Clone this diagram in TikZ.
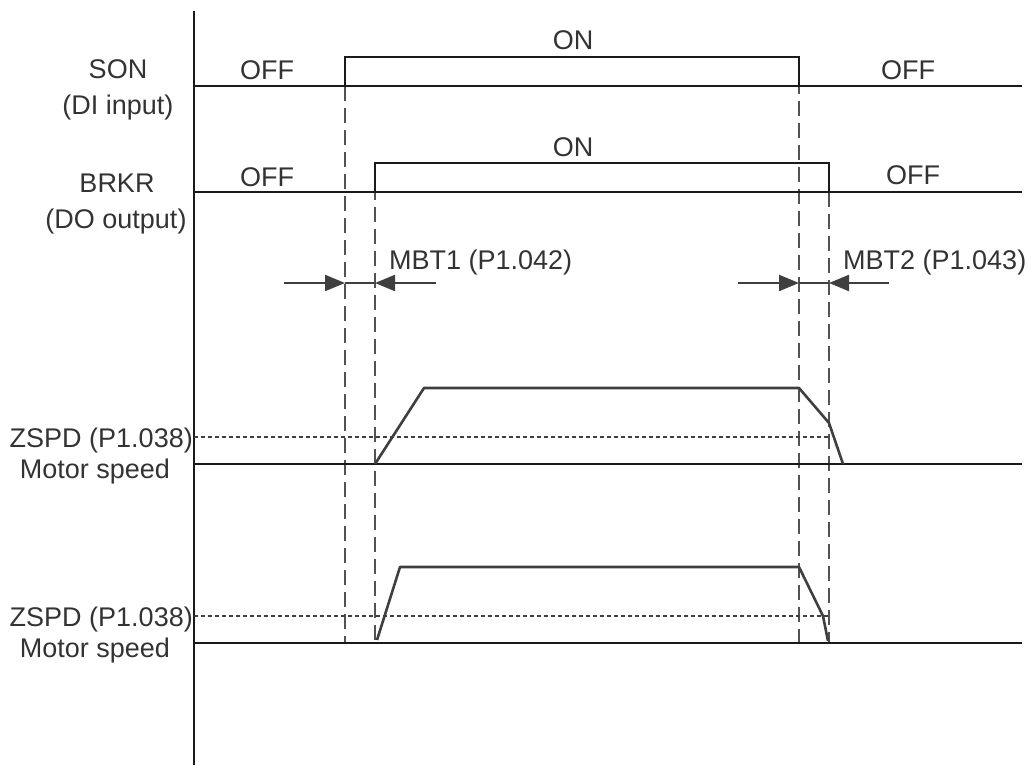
\documentclass[tikz,border=0pt]{standalone}
\usepackage{fontspec}
\setmainfont{Liberation Sans}
\usetikzlibrary{arrows.meta}
\definecolor{ink}{HTML}{1A1A1A}
\definecolor{curve}{HTML}{3F3F3F}
\definecolor{txt}{HTML}{333333}
\tikzset{
  sig/.style={draw=ink, line width=2pt},
  vdash/.style={draw=curve!90, line width=1.8pt, dash pattern=on 15pt off 7pt},
  vdot/.style={draw=curve, line width=1.8pt, dash pattern=on 4pt off 3pt},
  spd/.style={draw=curve, line width=2.6pt, line join=round},
  dimarr/.style={draw=curve, line width=2.2pt, -{Triangle[length=20pt,width=16pt]}},
  lbl/.style={text=txt, font=\fontsize{27}{32}\selectfont, inner sep=0pt, anchor=base},
  lblr/.style={lbl, anchor=base east},
  lbll/.style={lbl, anchor=base west}
}
\begin{document}
\begin{tikzpicture}[x=1pt,y=-1pt]
\useasboundingbox (0,0) rectangle (1027,765);
% axis
\draw[sig] (194,11) -- (194,765);
% dashed guides
\draw[vdash] (345,86) -- (345,643);
\draw[vdash] (375,163) -- (375,643);
\draw[vdash] (799,57) -- (799,643);
\draw[vdash] (829,192) -- (829,643);
% SON
\draw[sig] (194,86) -- (1022,86);
\draw[sig] (345,86) -- (345,57) -- (799,57) -- (799,86);
% BRKR
\draw[sig] (194,192) -- (1022,192);
\draw[sig] (375,192) -- (375,163) -- (829,163) -- (829,192);
% dimension arrows
\coordinate (a1s) at (284,283); \coordinate (a1e) at (345,283);
\coordinate (a2s) at (436,283); \coordinate (a2e) at (375,283);
\coordinate (b1s) at (738,283); \coordinate (b1e) at (799,283);
\coordinate (b2s) at (889,283); \coordinate (b2e) at (829,283);
\draw[dimarr] (a1s) -- (a1e);
\draw[dimarr] (a2s) -- (a2e);
\draw[draw=curve, line width=2.2pt] (a1e) -- (a2e);
\draw[dimarr] (b1s) -- (b1e);
\draw[dimarr] (b2s) -- (b2e);
\draw[draw=curve, line width=2.2pt] (b1e) -- (b2e);
% motor speed 1
\draw[vdot] (194,437) -- (829,437);
\draw[sig] (194,464) -- (1022,464);
\draw[spd] (375,464) -- (424,388) -- (799,388) -- (829,423) -- (843,464);
% motor speed 2
\draw[vdot] (194,616) -- (830,616);
\draw[sig] (194,643) -- (1022,643);
\draw[spd] (377,640) -- (400,567) -- (799,567) -- (823,616) -- (828,641);
% labels
\node[lbl] (son) at (118,79) {SON};
\node[lbl] (soni) at (118,115) {(DI input)};
\node[lbl] (brkr) at (117,192) {BRKR};
\node[lbl] (brkro) at (116,228) {(DO output)};
\node[lbl] (off1) at (267,80) {OFF};
\node[lbl] (on1) at (573,50) {ON};
\node[lbl] (off2) at (908,80) {OFF};
\node[lbl] (off3) at (267,186) {OFF};
\node[lbl] (on2) at (573,156) {ON};
\node[lbl] (off4) at (913,184) {OFF};
\node[lbll] (mbt1) at (389,269) {MBT1 (P1.042)};
\node[lbll] (mbt2) at (843,269) {MBT2 (P1.043)};
\node[lblr] (zs1) at (193,447) {ZSPD (P1.038)};
\node[lbl] (ms1) at (95,478) {Motor speed};
\node[lblr] (zs2) at (193,626) {ZSPD (P1.038)};
\node[lbl] (ms2) at (95,657) {Motor speed};
\end{tikzpicture}
\end{document}
